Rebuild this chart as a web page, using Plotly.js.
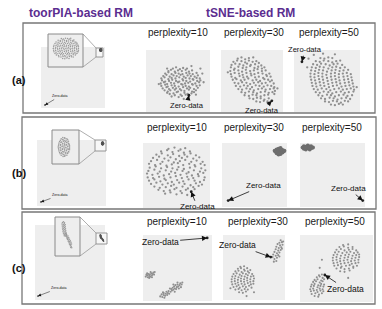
<!DOCTYPE html>
<html><head><meta charset="utf-8">
<script src="https://cdn.plot.ly/plotly-3.0.1.min.js"></script>
<style>html,body{margin:0;padding:0;background:#fff}#chart{width:382px;height:309px}</style>
</head><body><div id="chart"></div>
<script>
// ---------- DATA ----------
const colTitles = ['toorPIA-based RM', 'tSNE-based RM'];
const rowLabels = ['(a)', '(b)', '(c)'];
const perplexities = [10, 30, 50];
const zeroLabel = 'Zero-data';

// toorPIA: zoomed clusters (inset units) and the far-away zero-data point (big panel units)
const tpA = [[42,26],[48,25],[54,27],[60,26],[31,31],[37,30],[43,32],[49,31],[55,30],[61,32],[67,31],[72,30],
[24,36],[30,35],[36,37],[42,36],[48,35],[54,37],[60,36],[66,35],[72,37],[78,36],
[20,41],[26,40],[32,42],[38,41],[44,40],[50,42],[56,41],[62,40],[68,42],[74,41],[80,40],[83,42],
[17,46],[23,45],[29,47],[35,46],[41,45],[47,47],[53,46],[59,45],[65,47],[71,46],[77,45],[83,47],[86,46],
[16,51],[22,50],[28,52],[34,51],[40,50],[46,52],[52,51],[58,50],[64,52],[70,51],[76,50],[82,52],[87,51],
[15,56],[21,55],[27,57],[33,56],[39,55],[45,57],[51,56],[57,55],[63,57],[69,56],[75,55],[81,57],[87,56],
[16,61],[22,60],[28,62],[34,61],[40,60],[46,62],[52,61],[58,60],[64,62],[70,61],[76,60],[82,62],[87,61],
[17,66],[23,65],[29,67],[35,66],[41,65],[47,67],[53,66],[59,65],[65,67],[71,66],[77,65],[83,67],[86,66],
[20,71],[26,70],[32,72],[38,71],[44,70],[50,72],[56,71],[62,70],[68,72],[74,71],[80,70],[83,72],
[23,76],[29,75],[35,77],[41,76],[47,75],[53,77],[59,76],[65,75],[71,77],[77,76],[80,75],
[29,81],[35,80],[41,82],[47,81],[53,80],[59,82],[65,81],[71,80],[74,82],[38,86],[44,85],[50,87],[56,86],[62,85],[65,87]];
const tpB = [[41,22],[47,23],[34,26],[41,27],[48,25],[55,26],[30,30],[37,31],[44,29],[51,30],[58,31],
[28,34],[35,33],[42,35],[49,34],[56,33],[62,35],[26,38],[33,39],[40,37],[47,38],[54,39],[61,37],
[25,42],[32,41],[39,43],[46,42],[53,41],[60,43],[65,42],[24,46],[31,47],[38,45],[45,46],[52,47],[59,45],[65,46],
[23,50],[30,49],[37,51],[44,50],[51,49],[58,51],[65,50],[24,54],[31,55],[38,53],[45,54],[52,55],[59,53],[65,54],
[25,58],[32,57],[39,59],[46,58],[53,57],[60,59],[64,58],[26,62],[33,63],[40,61],[47,62],[54,63],[61,61],
[28,66],[35,65],[42,67],[49,66],[56,65],[61,67],[31,70],[38,71],[45,69],[52,70],[58,71],
[34,74],[41,73],[48,75],[55,74],[40,78],[47,77]];
const tpC = [[30,86],[34,88],[38,85],[28,82],[33,81],[37,83],[41,80],[29,77],[33,76],[37,78],[41,75],
[30,72],[34,71],[38,73],[42,70],[31,67],[35,66],[39,68],[43,65],[32,62],[36,61],[40,63],[44,60],
[34,57],[38,56],[42,58],[46,55],[37,52],[41,51],[45,53],
[41,58],[45,57],[43,54],[47,53],[45,50],[49,49],[52,51],[47,46],[51,45],[55,47],[50,42],[54,41],[58,43],
[53,38],[57,37],[61,39],[56,34],[60,33],[64,35],[58,30],[62,29],[66,31],[61,26],[65,25],[63,22],[67,21],[59,37],[52,47]];
const tpZero = [[6.3,4.9],[5.8,6.1],[4.3,5.3]];

// tSNE clouds (panel units 0-100)
const a10 = [[40,25],[45,27],[51,24],[56,26],[62,28],[67,25],
[33,31],[37,29],[43,30],[48,32],[54,28],[60,31],[65,29],[71,30],[75,32],
[29,35],[34,33],[38,35],[45,36],[50,33],[55,35],[60,34],[67,36],[72,33],[78,35],
[26,38],[32,40],[36,37],[42,39],[47,38],[53,37],[58,40],[64,38],[69,39],[75,37],[81,39],
[24,42],[30,44],[34,41],[40,43],[45,42],[51,41],[57,44],[62,42],[67,41],[73,44],[79,42],[84,43],
[23,46],[28,48],[33,45],[39,47],[44,46],[50,48],[55,45],[61,46],[66,47],[72,45],[77,46],[83,48],
[25,51],[30,49],[36,50],[41,52],[47,50],[52,49],[58,51],[63,50],[69,49],[74,52],[80,50],[85,51],
[24,54],[29,56],[35,53],[40,55],[46,54],[52,56],[57,53],[62,55],[68,54],[73,53],[79,55],[84,54],
[27,58],[32,60],[37,57],[43,59],[48,58],[54,60],[59,57],[65,59],[70,58],[76,57],[81,59],
[30,62],[35,64],[40,61],[46,63],[51,62],[57,61],[63,63],[68,62],[73,61],[79,63],
[35,66],[39,68],[45,65],[50,67],[56,66],[62,68],[67,65],[72,67],
[42,70],[47,72],[53,69],[58,71],[64,70],[88,62],[85,70],[20,45],[59,21],[71,74],[33,70],[90,48],[78,28]];
const a10Zero = [67,27];
const a30 = [[27,86],[33,88],[39,85],[45,87],[20,81],[26,83],[33,82],[39,80],[45,83],[51,81],[57,82],
[17,76],[23,78],[30,77],[36,75],[42,78],[48,76],[55,77],[61,79],[65,75],
[16,72],[22,70],[28,73],[35,71],[41,72],[47,74],[54,71],[60,73],[66,70],[70,72],
[15,66],[21,68],[28,67],[34,65],[40,68],[47,66],[53,67],[59,69],[66,66],[72,67],
[16,61],[22,63],[29,62],[35,60],[41,63],[48,62],[54,61],[60,63],[67,62],[73,60],[78,62],
[17,57],[23,55],[30,58],[36,56],[42,57],[49,59],[55,56],[61,57],[68,55],[74,58],[80,57],
[19,52],[25,53],[32,51],[38,52],[44,54],[51,51],[57,52],[63,50],[70,53],[76,52],[82,51],
[22,47],[28,46],[34,48],[41,47],[47,45],[53,47],[60,48],[66,46],[72,47],[79,49],[85,46],
[24,42],[31,41],[37,43],[43,42],[50,40],[56,43],[62,42],[69,41],[75,43],[81,42],[86,40],
[28,37],[34,36],[41,38],[47,37],[53,35],[60,37],[66,38],[72,36],[79,37],[85,38],
[33,32],[39,31],[45,33],[52,32],[58,30],[64,32],[71,33],[77,31],[83,32],[87,34],
[38,27],[45,26],[51,28],[57,27],[64,25],[70,27],[76,28],[86,29],
[46,22],[52,21],[58,23],[64,22],[70,20],[77,22],[57,17],[63,16],[69,18],[75,17],[11,64],[91,38],[52,88]];
const a30Zero = [82,18];
const a50 = [[56,12],[62,11],[68,13],[74,12],[47,17],[53,16],[59,18],[65,17],[71,15],[77,18],[82,17],
[41,22],[47,21],[54,23],[60,22],[66,20],[72,22],[79,23],[85,21],
[37,27],[43,26],[50,28],[56,27],[62,25],[68,27],[75,28],[81,26],[88,27],
[33,32],[39,31],[45,33],[52,32],[58,30],[64,32],[71,33],[77,31],[83,32],[90,33],
[30,37],[36,36],[42,38],[49,37],[55,35],[61,37],[68,38],[74,36],[80,37],[86,38],[91,36],
[28,42],[34,41],[40,43],[46,42],[53,40],[59,42],[65,43],[72,41],[78,42],[84,43],[90,41],
[27,47],[33,46],[39,48],[45,47],[52,45],[58,47],[64,48],[70,46],[77,47],[83,48],[89,46],
[26,52],[32,51],[38,53],[44,52],[51,50],[57,52],[63,53],[69,51],[76,52],[82,53],[88,51],
[25,57],[31,56],[37,58],[43,57],[50,55],[56,57],[62,58],[68,56],[75,57],[81,58],[87,56],
[25,62],[31,61],[37,63],[43,62],[49,60],[56,62],[62,63],[68,61],[74,62],[80,63],[86,61],
[26,67],[32,66],[38,68],[44,67],[50,65],[57,67],[63,68],[69,66],[75,67],[82,68],
[27,72],[33,71],[39,73],[45,72],[52,70],[58,72],[64,73],[70,71],[77,72],
[29,77],[35,76],[41,78],[48,77],[54,75],[60,77],[66,78],[73,76],
[33,82],[39,81],[45,83],[52,82],[58,80],[64,82],[70,83],[40,87],[46,86],[52,88],[58,87],
[22,86],[30,92],[44,94],[62,93],[20,72],[95,40]];
const a50Zero = [12,81];
const b10 = [[33,22],[41,24],[50,21],[58,23],[66,20],[23,28],[31,26],[40,27],[47,29],[56,26],[64,28],[77,29],
[17,33],[25,31],[34,32],[42,34],[50,31],[59,33],[67,30],[75,32],[83,34],
[12,37],[20,39],[29,36],[37,38],[46,36],[54,39],[62,37],[71,35],[79,38],[88,36],
[9,42],[17,44],[26,41],[34,43],[43,40],[51,43],[60,41],[68,44],[77,42],[85,40],[91,43],
[7,47],[15,46],[24,48],[32,45],[41,47],[49,49],[58,46],[66,48],[75,46],[83,49],[92,47],
[6,53],[14,51],[22,53],[31,50],[39,52],[48,54],[56,51],[65,53],[73,50],[82,52],[90,54],
[8,57],[17,59],[25,56],[34,58],[42,56],[51,59],[59,57],[68,55],[76,58],[85,56],[93,58],
[10,62],[19,64],[27,61],[36,63],[44,61],[53,63],[61,60],[70,62],[78,64],[87,61],
[9,68],[18,66],[26,68],[35,65],[43,67],[52,69],[60,66],[69,68],[77,66],[86,68],[92,66],
[12,72],[21,74],[29,71],[38,73],[46,70],[55,72],[63,74],[72,71],[80,73],[89,71],
[15,77],[24,79],[32,76],[41,78],[49,75],[58,77],[66,79],[75,76],[84,78],
[20,82],[28,84],[37,81],[45,83],[54,80],[62,82],[71,84],[79,81],
[27,87],[36,89],[44,86],[53,88],[61,85],[70,87],[38,91],[47,93],[56,90],[63,92]];
const b10Zero = [72,25];
const b30 = [[82,87],[84,84],[84,90],[87,82],[87,86],[87,91],[90,83],[90,87],[90,92],[93,85],[93,89],[95,87],
[86,88],[92,86],[89,89],[85,86],[91,90],[88,84],[96,88],[81,88]];
const b30Zero = [9.5,10];
const b50 = [[4,93],[6,91],[6,95],[9,90],[9,94],[12,92],[12,96],[15,90],[15,94],[18,92],[20,93],[10,93],[14,93],[17,95],[8,93]];
const b50Zero = [96.5,10];
const c10 = [[4,37],[6,39],[7,36],[8,41],[9,38],[10,40],[11,37],[12,42],[13,39],[14,41],[15,43],[16,40],[6,42],[11,44],[9,35],[13,36],[17,44],[5,40],
[25,7],[27,10],[28,6],[30,9],[30,12],[32,8],[33,11],[34,14],[35,9],[36,12],[29,13],[31,5],[37,15],[38,11],[40,14],[41,18],[42,16],[43,20],[44,17],
[45,22],[46,19],[47,24],[48,18],[49,21],[50,25],[51,22],[52,19],[53,24],[54,27],[55,21],[56,25],[44,25],[39,19],[46,14],[57,28],[50,28]];
const c10Zero = [93,95.5];
const c30 = [[93,92],[95,89],[91,88],[96,85],[92,84],[88,86],[94,81],[90,80],[86,82],[93,77],[89,76],[85,78],[91,73],[87,72],[83,74],
[89,69],[85,68],[81,70],[87,65],[83,63],[80,66],[91,67],[95,79],[97,90],[86,60],[82,59],
[26,12],[32,11],[37,13],[20,16],[25,17],[30,15],[35,17],[40,16],[17,20],[22,21],[27,19],[32,21],[37,20],[42,22],[46,19],
[15,24],[20,25],[25,23],[30,25],[35,24],[40,26],[45,24],[49,25],[14,28],[19,29],[24,27],[29,29],[34,28],[39,30],[44,28],[49,29],
[14,32],[19,33],[24,31],[29,33],[34,32],[39,34],[44,32],[50,33],[15,36],[20,37],[25,35],[30,37],[35,36],[40,38],[45,36],[49,37],
[17,40],[22,41],[27,39],[32,41],[37,40],[42,42],[47,40],[20,44],[25,45],[30,43],[35,45],[40,44],[44,46],
[24,48],[29,49],[34,47],[39,49],[28,51],[34,52],[12,18],[50,12],[38,6]];
const c30Zero = [77,66];
const c50 = [[55,46],[61,45],[68,47],[50,50],[56,51],[61,49],[67,50],[73,51],[47,54],[52,55],[57,53],[63,54],[68,55],[73,53],[78,54],
[46,58],[51,59],[56,57],[61,58],[66,59],[71,57],[76,58],[80,59],[45,62],[50,63],[55,61],[60,62],[65,63],[70,61],[75,62],[80,63],
[45,66],[50,67],[55,65],[61,66],[66,67],[71,65],[76,66],[81,67],[46,70],[51,71],[56,69],[62,70],[67,71],[72,69],[77,70],[81,71],
[48,74],[53,75],[58,73],[64,74],[69,75],[74,73],[79,74],[50,78],[56,79],[61,77],[67,78],[72,79],[77,77],[54,82],[60,83],[66,81],[72,82],[59,85],[66,86],
[20,9],[25,8],[16,12],[21,13],[26,11],[30,13],[15,16],[19,17],[24,15],[28,17],[32,16],[14,19],[18,20],[23,18],[27,20],[31,19],
[15,23],[19,24],[24,22],[28,24],[32,23],[16,26],[20,27],[25,25],[29,27],[33,26],[18,30],[22,31],[27,29],[31,31],
[20,33],[24,34],[29,32],[33,34],[23,37],[27,38],[31,36],[26,40],[30,41],[27,51],[30,63],[66,36]];
const c50Zero = [34,40.3];

// ---------- LAYOUT / DRAWING ----------
const W = 382, H = 309;
const FONT = 'Liberation Sans, Arial, Helvetica, sans-serif';
const BG = '#eeeeee', PT = '#8f8f8f', PURPLE = '#5b2d90';

const rows = [
  {big:[41,47,105,108], small:[96,48,103,57], inset:[48,34,83,67], sr:[[-116,134],[-138.5,111.5]],
   p:[[146,50,210,112],[221,50,283,112],[294,50,360,112]], frame:[23,23,375,113], label:[19,80], hy:33, hx:[178,254,329],
   tp:tpA, clouds:[a10,a30,a50], zeros:[a10Zero,a30Zero,a50Zero], zoff:[[-2,10],[-10,10],[3,-12]], tz:[15,-9], fs:7.6},
  {big:[37,140,106,206], small:[95,140,106,151], inset:[52,130,79,164], sr:[[-93.5,106.5],[-88,112]],
   p:[[143,143,210,208],[222,143,287,207],[300,143,365,207]], frame:[22,117,376,209], label:[19,173], hy:127, hx:[177,254,332],
   tp:tpB, clouds:[b10,b30,b50], zeros:[b10Zero,b30Zero,b50Zero], zoff:[[6,15],[35,-15],[-14,-12]], tz:[19,-7], fs:8},
  {big:[35,225,105,300], small:[96,233,107,244], inset:[55,217,80,256], sr:[[-10.5,99.5],[-5.5,104.5]],
   p:[[143,235,212,301],[223,235,285,300],[300,235,373,302]], frame:[22,212,375,304], label:[19,268], hy:221, hx:[177,258,335],
   tp:tpC, clouds:[c10,c30,c50], zeros:[c10Zero,c30Zero,c50Zero], zoff:[[-47,4],[-33,-12],[21,14]], tz:[21,-8], fs:8.5}
];

const layout = {width:W, height:H, margin:{l:0,r:0,t:0,b:0}, paper_bgcolor:'#ffffff', plot_bgcolor:'rgba(0,0,0,0)',
  showlegend:false, shapes:[], annotations:[], font:{family:FONT, color:'#111'}, hovermode:false};
const traces = [];
let n = 0;
function axes(r, xr, yr){
  n++; const s = n === 1 ? '' : String(n);
  layout['xaxis'+s] = {domain:[r[0]/W, r[2]/W], range:xr, visible:false, fixedrange:true, anchor:'y'+s};
  layout['yaxis'+s] = {domain:[1-r[3]/H, 1-r[1]/H], range:yr, visible:false, fixedrange:true, anchor:'x'+s};
  return {x:'x'+s, y:'y'+s};
}
function prect(r, fill, lc, lw){
  layout.shapes.push({type:'rect', xref:'paper', yref:'paper', x0:r[0]/W, x1:r[2]/W, y0:1-r[3]/H, y1:1-r[1]/H,
    fillcolor:fill, line:{color:lc||'rgba(0,0,0,0)', width:lw||0}, layer:'below'});
}
function pline(x0,y0,x1,y1,c,w){
  layout.shapes.push({type:'line', xref:'paper', yref:'paper', x0:x0/W, x1:x1/W, y0:1-y0/H, y1:1-y1/H, line:{color:c, width:w}, layer:'below'});
}
function pts(arr, ax, size, color){
  traces.push({type:'scatter', mode:'markers', x:arr.map(p=>p[0]), y:arr.map(p=>p[1]), xaxis:ax.x, yaxis:ax.y,
    marker:{size:size, color:color, line:{width:0}}, hoverinfo:'skip'});
}
function note(text, x, y, size, bold, color, anchor){
  layout.annotations.push({xref:'paper', yref:'paper', x:x/W, y:1-y/H, xanchor:anchor||'center', yanchor:'middle', showarrow:false,
    text: bold ? '<b>'+text+'</b>' : text, font:{size:size, color:color||'#111', family:FONT}});
}
function zero(ax, p, off, fs, aw, as){
  layout.annotations.push({xref:ax.x, yref:ax.y, x:p[0], y:p[1], ax:off[0], ay:off[1], text:zeroLabel, showarrow:true,
    arrowhead:2, arrowsize:as, arrowwidth:aw, arrowcolor:'#111', standoff:0, font:{size:fs, color:'#111', family:FONT}});
}

note(colTitles[0], 27, 13, 12, true, PURPLE, 'left');
note(colTitles[1], 204, 13, 12, true, PURPLE, 'left');

rows.forEach((R, i) => {
  prect(R.frame, 'rgba(0,0,0,0)', '#777', 1.3);
  note(rowLabels[i], R.label[0], R.label[1], 11, true);
  // toorPIA
  prect(R.big, BG);
  pline(R.inset[2], R.inset[1], R.small[0], R.small[1], '#999', 0.8);
  pline(R.inset[2], R.inset[3], R.small[0], R.small[3], '#999', 0.8);
  prect(R.inset, BG, '#8a8a8a', 1);
  prect(R.small, '#f7f7f7', '#8a8a8a', 0.9);
  const bigAx = axes(R.big, [0,100], [0,100]);
  pts([tpZero[i]], bigAx, 1.8, '#444');
  zero(bigAx, tpZero[i], R.tz, 3.6, 0.5, 1.2);
  const smAx = axes(R.small, R.sr[0], R.sr[1]);
  pts(R.tp, smAx, 1.1, '#555');
  const inAx = axes(R.inset, [0,100], [0,100]);
  pts(R.tp, inAx, 1.5, '#9a9a9a');
  // tSNE
  R.p.forEach((r, j) => {
    prect(r, BG);
    const ax = axes(r, [0,100], [0,100]);
    const blob = (i === 1 && j > 0);
    pts(R.clouds[j], ax, blob ? 4 : (i === 2 ? 2.1 : 2.3), blob ? '#6e6e6e' : PT);
    pts([R.zeros[j]], ax, 2.8, '#222');
    zero(ax, R.zeros[j], R.zoff[j], R.fs, 0.8, 1.3);
    note('perplexity=' + perplexities[j], R.hx[j], R.hy, 10, false, '#1a1a1a');
  });
});

Plotly.newPlot('chart', traces, layout, {staticPlot:true, displayModeBar:false});
</script></body></html>
